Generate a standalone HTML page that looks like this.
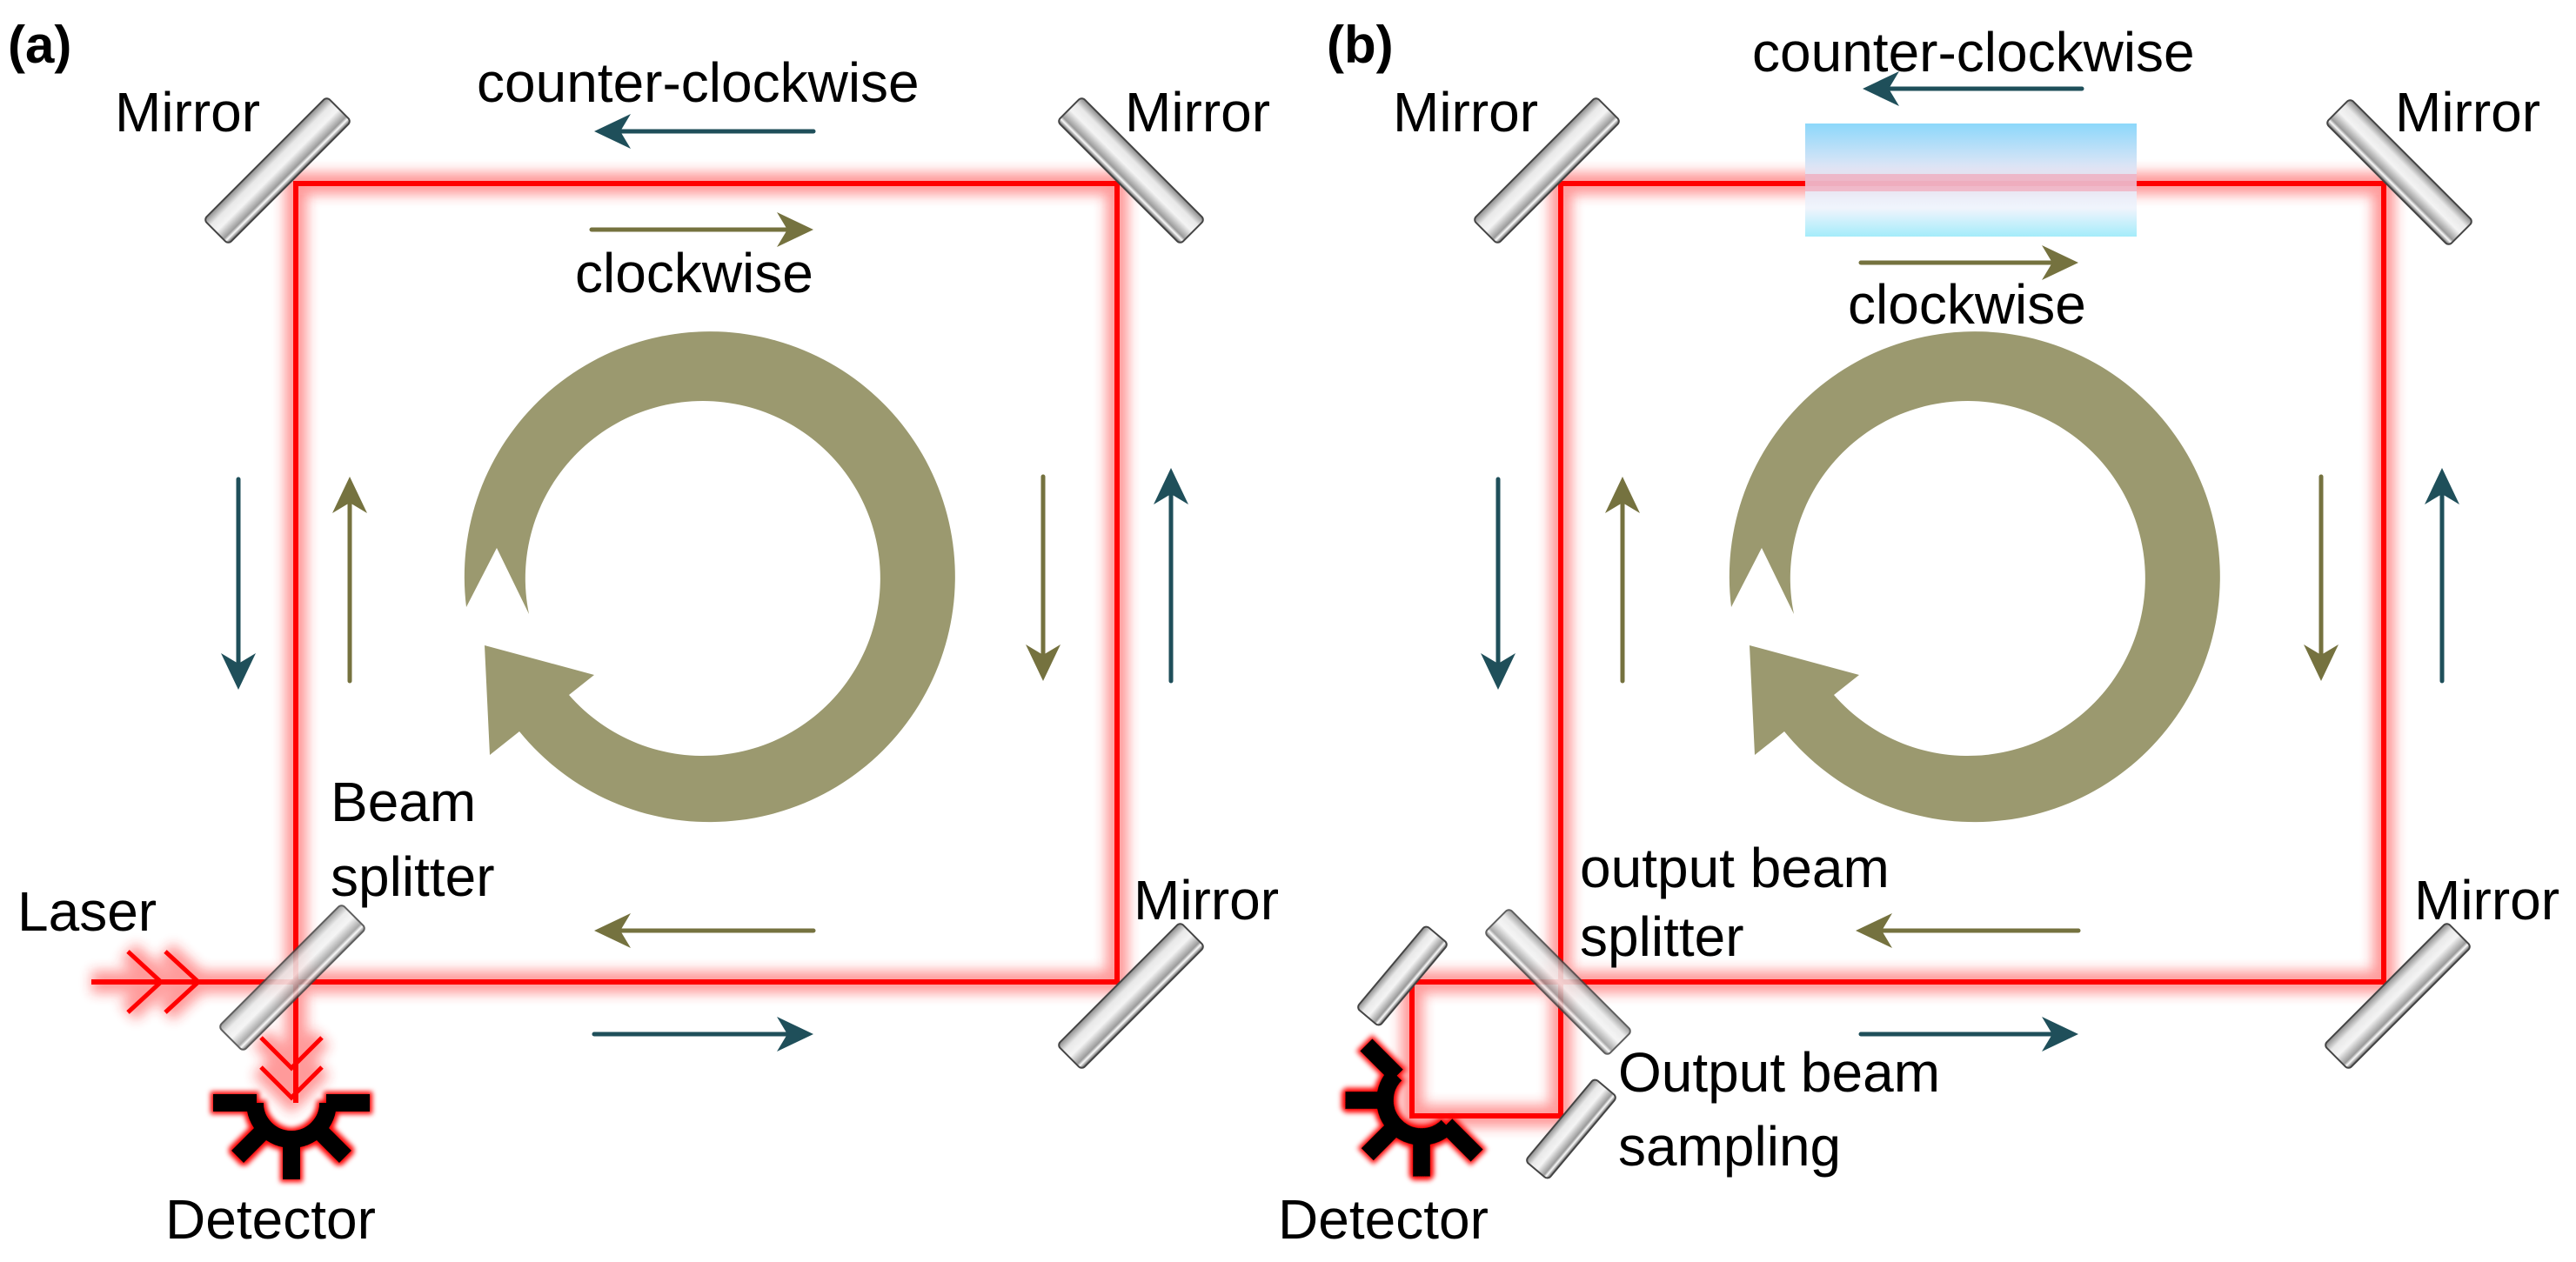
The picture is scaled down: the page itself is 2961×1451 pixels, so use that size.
<!DOCTYPE html>
<html><head><meta charset="utf-8"><style>
html,body{margin:0;padding:0;background:#fff;}
svg{display:block;}
text{font-family:"Liberation Sans",sans-serif;font-size:64px;fill:#000;}
</style></head><body>
<svg width="2961" height="1451" viewBox="0 0 2961 1451" xmlns="http://www.w3.org/2000/svg">
<defs>
  <filter id="blur" x="-20%" y="-20%" width="140%" height="140%"><feGaussianBlur stdDeviation="7"/></filter>
  <filter id="dglow" x="-30%" y="-30%" width="160%" height="160%">
    <feMorphology in="SourceAlpha" operator="dilate" radius="3" result="d"/>
    <feGaussianBlur in="d" stdDeviation="3" result="b"/>
    <feFlood flood-color="#ff0000"/><feComposite in2="b" operator="in" result="r"/>
    <feMerge><feMergeNode in="r"/><feMergeNode in="SourceGraphic"/></feMerge>
  </filter>
  <linearGradient id="mg" x1="0" y1="0" x2="0" y2="1">
    <stop offset="0" stop-color="#8a8a8a"/><stop offset="0.25" stop-color="#e8e8e8"/>
    <stop offset="0.5" stop-color="#f4f4f4"/><stop offset="0.8" stop-color="#9a9a9a"/>
    <stop offset="0.88" stop-color="#fafafa"/><stop offset="1" stop-color="#555"/>
  </linearGradient>
  <linearGradient id="slab" x1="0" y1="0" x2="0" y2="1">
    <stop offset="0" stop-color="#7fd3fa"/><stop offset="0.4" stop-color="#dde3f5"/>
    <stop offset="0.75" stop-color="#eef3fc"/><stop offset="1" stop-color="#9aeafa"/>
  </linearGradient>
  <g id="mir"><rect x="-100" y="-20" width="200" height="40" rx="5" fill="url(#mg)" stroke="#444" stroke-width="2"/></g>
  <g id="mirS"><rect x="-62" y="-17" width="124" height="34" rx="5" fill="url(#mg)" stroke="#444" stroke-width="2"/></g>
  <polygon id="ht" points="0,0 -42,-20 -30,0 -42,20" fill="#1f4f5a"/>
  <polygon id="ho" points="0,0 -42,-20 -30,0 -42,20" fill="#75723f"/>
  <g id="det">
    <path d="M-42,0 A42,42 0 0 0 42,0" fill="none" stroke="#000" stroke-width="20"/>
    <line x1="-90" y1="0" x2="-40" y2="0" stroke="#000" stroke-width="20"/>
    <line x1="40" y1="0" x2="90" y2="0" stroke="#000" stroke-width="20"/>
    <line x1="0" y1="40" x2="0" y2="88" stroke="#000" stroke-width="20"/>
    <line x1="28" y1="28" x2="62" y2="62" stroke="#000" stroke-width="20"/>
    <line x1="-28" y1="28" x2="-62" y2="62" stroke="#000" stroke-width="20"/>
  </g>
  <path id="ring" fill="#9b996f" d="M-281,21 A282,282 0 1 1 -220,164 L-254,191 L-260,65 L-134,99 L-163,122 A204,204 0 1 0 -209,29 L-246,-47 Z"/>
</defs>

<g filter="url(#blur)" opacity="0.45" stroke="#ff2020" stroke-width="26" fill="none">
  <path d="M105,1129 H1284 V211 H340 V1268"/>
  <path d="M1623,1129 H2740 V211 H1794 V1283 H1623 Z"/>
  <path d="M147,1094 L185,1129 L147,1164 M190,1094 L228,1129 L190,1164"/>
  <path d="M300,1193 L335,1228 L370,1193 M300,1227 L335,1262 L370,1227"/>
</g>
<g stroke="#ff0000" stroke-width="6" fill="none" stroke-linejoin="miter">
  <path d="M105,1129 H1284 V211 H340 V1268"/>
  <path d="M1623,1129 H2740 V211 H1794 V1283 H1623 Z"/>
  <path d="M147,1094 L185,1129 L147,1164 M190,1094 L228,1129 L190,1164" stroke-width="5"/>
  <path d="M300,1193 L335,1228 L370,1193 M300,1227 L335,1262 L370,1227" stroke-width="5"/>
</g>

<rect x="2075" y="142" width="381" height="130" fill="url(#slab)" opacity="0.9"/>
<rect x="2075" y="200" width="381" height="20" fill="#ff6a80" opacity="0.35"/>

<use href="#mir" transform="translate(319,196) rotate(-45)"/>
<use href="#mir" transform="translate(1300,196) rotate(45)"/>
<use href="#mir" transform="translate(1300,1145) rotate(-45)"/>
<use href="#mir" transform="translate(336,1124) rotate(-45)" opacity="0.85"/>
<use href="#mir" transform="translate(1778,196) rotate(-45)"/>
<use href="#mir" transform="translate(2758,198) rotate(45)"/>
<use href="#mir" transform="translate(2756,1145) rotate(-45)"/>
<use href="#mir" transform="translate(1791,1129) rotate(45)" opacity="0.85"/>
<use href="#mirS" transform="translate(1612,1122) rotate(-50)"/>
<use href="#mirS" transform="translate(1806,1298) rotate(-50)"/>

<use href="#det" transform="translate(335,1268)" filter="url(#dglow)"/>
<use href="#det" transform="translate(1634,1265) rotate(45)" filter="url(#dglow)"/>

<use href="#ring" transform="translate(817,677)"/>
<use href="#ring" transform="translate(2271,677)"/>

<g stroke-width="5" fill="none" stroke-linecap="round">
  <g stroke="#1f4f5a">
    <line x1="935" y1="151" x2="700" y2="151"/>
    <line x1="683" y1="1189" x2="918" y2="1189"/>
    <line x1="274" y1="551" x2="274" y2="776"/>
    <line x1="1346" y1="783" x2="1346" y2="555"/>
    <line x1="2393" y1="102" x2="2158" y2="102"/>
    <line x1="2139" y1="1189" x2="2372" y2="1189"/>
    <line x1="1722" y1="551" x2="1722" y2="776"/>
    <line x1="2807" y1="783" x2="2807" y2="555"/>
  </g>
  <g stroke="#75723f">
    <line x1="680" y1="264" x2="918" y2="264"/>
    <line x1="935" y1="1070" x2="700" y2="1070"/>
    <line x1="402" y1="783" x2="402" y2="565"/>
    <line x1="1199" y1="548" x2="1199" y2="766"/>
    <line x1="2139" y1="302" x2="2372" y2="302"/>
    <line x1="2389" y1="1070" x2="2150" y2="1070"/>
    <line x1="1865" y1="783" x2="1865" y2="565"/>
    <line x1="2668" y1="548" x2="2668" y2="766"/>
  </g>
</g>
<use href="#ht" transform="translate(683,151) rotate(180)"/>
<use href="#ht" transform="translate(935,1189)"/>
<use href="#ht" transform="translate(274,793) rotate(90)"/>
<use href="#ht" transform="translate(1346,538) rotate(-90)"/>
<use href="#ht" transform="translate(2141,102) rotate(180)"/>
<use href="#ht" transform="translate(2389,1189)"/>
<use href="#ht" transform="translate(1722,793) rotate(90)"/>
<use href="#ht" transform="translate(2807,538) rotate(-90)"/>
<use href="#ho" transform="translate(935,264)"/>
<use href="#ho" transform="translate(683,1070) rotate(180)"/>
<use href="#ho" transform="translate(402,548) rotate(-90)"/>
<use href="#ho" transform="translate(1199,783) rotate(90)"/>
<use href="#ho" transform="translate(2389,302)"/>
<use href="#ho" transform="translate(2133,1070) rotate(180)"/>
<use href="#ho" transform="translate(1865,548) rotate(-90)"/>
<use href="#ho" transform="translate(2668,783) rotate(90)"/>

<text x="9" y="72" font-weight="bold" style="font-size:60px">(a)</text>
<text x="132" y="151">Mirror</text>
<text x="1293" y="151">Mirror</text>
<text x="548" y="117">counter-clockwise</text>
<text x="661" y="336">clockwise</text>
<text x="380" y="944">Beam</text>
<text x="380" y="1030">splitter</text>
<text x="20" y="1070">Laser</text>
<text x="1303" y="1057">Mirror</text>
<text x="190" y="1424">Detector</text>

<text x="1525" y="72" font-weight="bold" style="font-size:60px">(b)</text>
<text x="1601" y="151">Mirror</text>
<text x="2753" y="151">Mirror</text>
<text x="2014" y="82">counter-clockwise</text>
<text x="2124" y="372">clockwise</text>
<text x="1816" y="1020">output beam</text>
<text x="1816" y="1099">splitter</text>
<text x="2775" y="1057">Mirror</text>
<text x="1860" y="1255">Output beam</text>
<text x="1860" y="1340">sampling</text>
<text x="1469" y="1424">Detector</text>
</svg>
</body></html>
